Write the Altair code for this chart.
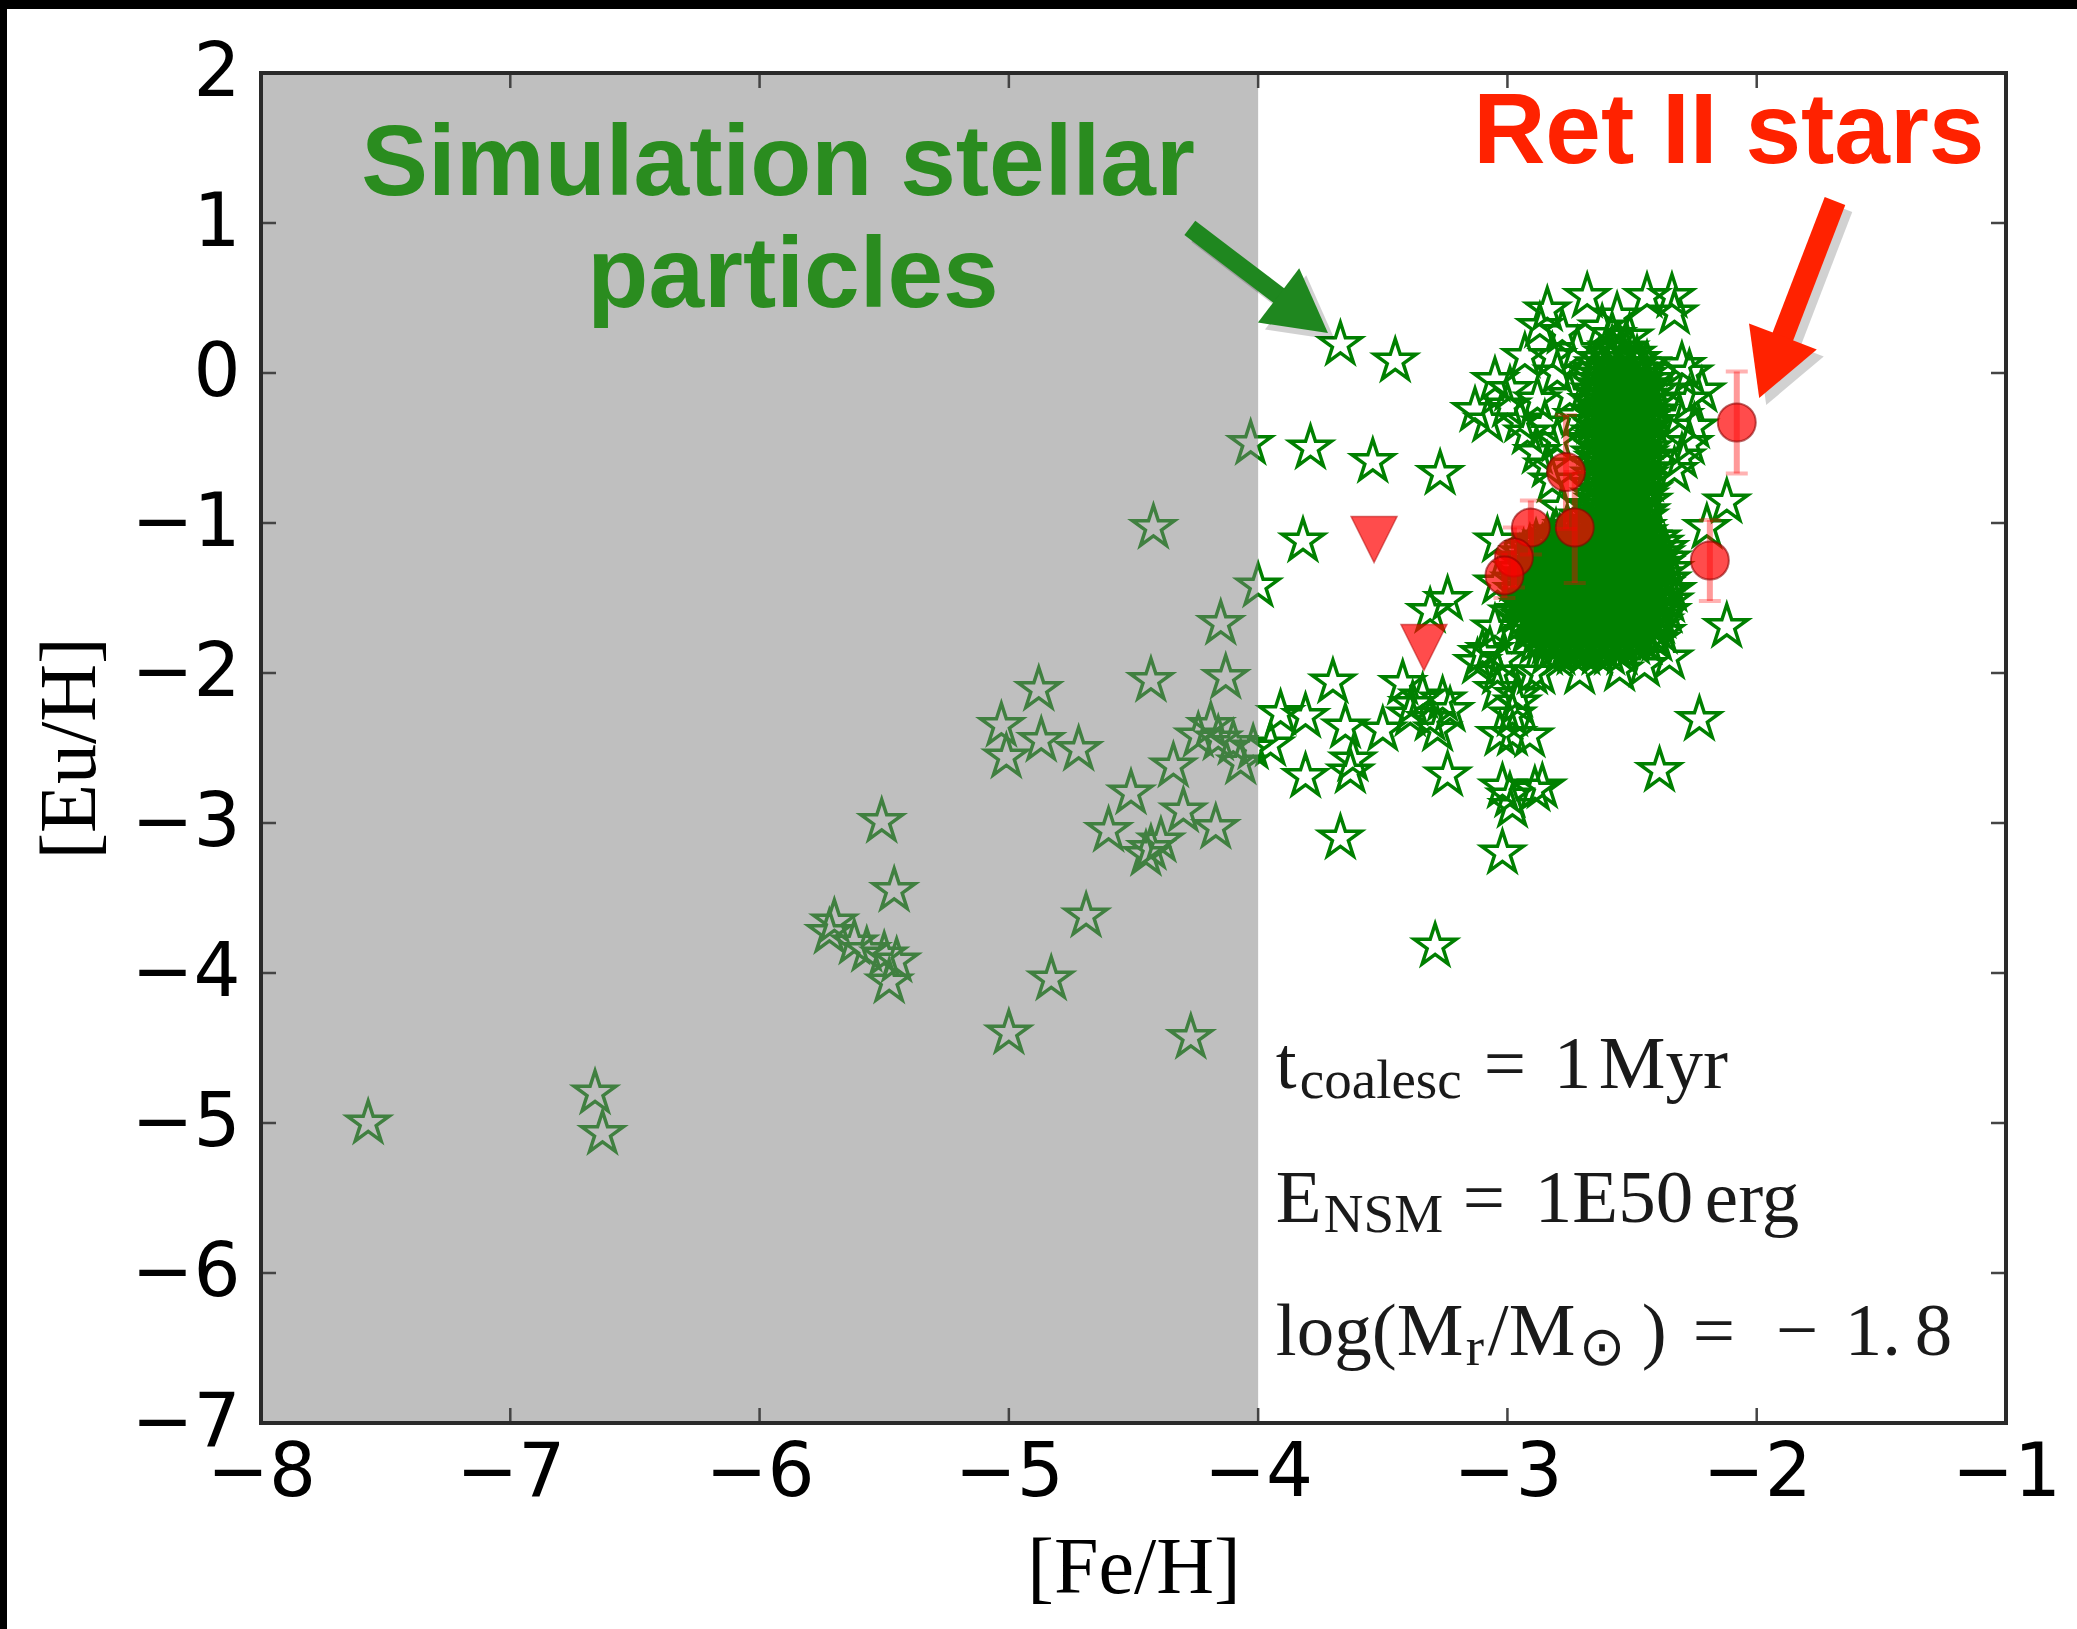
import math
import altair as alt
import pandas as pd

# ---------------------------------------------------------------- geometry
W, H = 1745, 1350
X_MIN, X_MAX = -8, -1
Y_MIN, Y_MAX = -7, 2
PX_X = W / (X_MAX - X_MIN)
PX_Y = H / (Y_MAX - Y_MIN)

# ---------------------------------------------------------------- data
# isolated simulation stellar particles ([Fe/H], [Eu/H])
sim_feh = [
    -7.57, -6.66, -6.63, -5.51, -5.46, -5.70, -5.72, -5.62, -5.57, -5.50,
    -5.45, -5.48, -4.69, -4.83, -5.00, -4.27, -4.42, -4.00, -4.15, -4.43,
    -4.13, -4.88, -5.03, -5.01, -4.87, -4.72, -4.19, -4.16, -4.10, -4.02,
    -4.24, -4.34, -4.07, -4.51, -4.30, -4.17, -4.60, -4.43, -4.39, -4.45,
    -4.03,
    -3.67, -3.45, -3.79, -3.54, -3.27, -3.82,
    -3.70, -3.91, -3.81, -3.95, -3.65, -3.62, -3.63, -3.50, -3.81, -3.67,
    -3.42, -3.34, -3.38, -3.26, -3.23, -3.31, -3.39, -3.28, -3.24,
    -3.02, -2.86, -2.98, -3.02, -2.98, -3.03, -2.91, -2.98, -3.04, -3.10, -3.02,
    -2.39, -3.24, -3.31, -2.12, -2.23, -3.29, -3.07, -2.89, -2.99, -2.90,
    -3.04, -3.12, -2.96,
    -2.12, -2.20, -2.27, -2.27, -2.31, -2.25, -2.30, -2.33, -2.27,
    -2.84, -2.68, -2.56, -2.44, -2.34, -2.33, -2.87, -2.78, -2.51, -2.93,
    -2.82, -3.05, -3.13, -2.99, -2.88, -2.85, -2.72, -2.84, -2.88, -2.62,
    -2.58,
    -3.00, -2.95, -2.80, -2.75, -2.92, -3.08, -2.80, -2.72, -2.82, -2.78,
    -2.40, -2.34, -3.04, -3.04, -2.96, -2.87, -2.71, -2.55, -2.45, -2.35,
    -2.22, -2.30, -2.95, -2.98, -3.05,
]
sim_euh = [
    -5.00, -4.80, -5.07, -2.99, -3.45, -3.66, -3.73, -3.80, -3.85, -3.88,
    -3.92, -4.06, -3.62, -4.04, -4.40, -4.43, -1.03, -1.42, -1.67, -2.05,
    -2.03, -2.11, -2.35, -2.56, -2.45, -2.51, -2.35, -2.44, -2.47, -2.50,
    -2.42, -2.62, -2.60, -2.80, -2.92, -3.03, -3.05, -3.17, -3.12, -3.21,
    -0.47,
    0.19, 0.08, -0.50, -0.59, -0.67, -1.12,
    -2.06, -2.27, -2.29, -2.48, -2.36, -2.58, -2.66, -2.38, -2.69, -3.10,
    -2.07, -2.16, -2.21, -2.18, -2.25, -2.31, -2.28, -2.38, -2.68,
    -2.76, -2.76, -2.89, -3.20, -2.41, -2.41, -2.42, -2.28, -2.11, -1.87, -1.91,
    -2.65, -1.51, -1.59, -1.69, -2.31, -3.82, -1.85, -2.78, -2.82, -2.00,
    -1.40, -1.93, -2.15,
    -0.86, -1.03, 0.00, -0.18, -0.29, -0.36, -0.56, -0.65, -0.47,
    0.42, 0.51, 0.38, 0.51, 0.51, 0.40, 0.31, 0.27, 0.24, 0.11,
    0.11, -0.05, -0.25, -0.11, -0.18, -0.34, -0.29, -0.62, -0.53, 0.30,
    0.25,
    -0.22, -0.32, -0.45, -0.15, -0.40, -0.32, 0.00, 0.15, -0.72, -0.90,
    -1.78, -1.45, -1.12, -2.00, -2.20, -2.00, -2.00, -1.98, -1.95, -1.90,
    -0.12, 0.05, -1.25, -1.60, -1.70,
]

# crowded core of the particle distribution: one [Eu/H] per row, its [Fe/H] values
core_euh = [
    0.16, 0.125, 0.09, 0.055, 0.02, -0.015, -0.05, -0.085, -0.12, -0.155,
    -0.19, -0.225, -0.26, -0.295, -0.33, -0.365, -0.40, -0.435, -0.47, -0.505,
    -0.54, -0.575, -0.61, -0.645, -0.68, -0.715, -0.75, -0.785, -0.82, -0.855,
    -0.89, -0.925, -0.96, -0.995, -1.03, -1.065, -1.10, -1.135, -1.17, -1.205,
    -1.24, -1.275, -1.31, -1.345, -1.38, -1.415, -1.45, -1.485, -1.52, -1.555,
    -1.59, -1.625, -1.66, -1.695, -1.73, -1.765, -1.80, -1.835, -1.87,
]
core_feh = [
    [-2.58, -2.53],
    [-2.60, -2.55, -2.50],
    [-2.63, -2.58, -2.53, -2.48],
    [-2.635, -2.585, -2.535, -2.485, -2.44],
    [-2.65, -2.60, -2.55, -2.50, -2.45],
    [-2.655, -2.605, -2.555, -2.505, -2.455],
    [-2.66, -2.61, -2.56, -2.51, -2.46, -2.42],
    [-2.635, -2.585, -2.535, -2.485, -2.435],
    [-2.65, -2.60, -2.55, -2.50, -2.45, -2.41],
    [-2.635, -2.585, -2.535, -2.485, -2.435],
    [-2.66, -2.61, -2.56, -2.51, -2.46, -2.41],
    [-2.635, -2.585, -2.535, -2.485, -2.435],
    [-2.65, -2.60, -2.55, -2.50, -2.45, -2.41],
    [-2.635, -2.585, -2.535, -2.485, -2.435],
    [-2.66, -2.61, -2.56, -2.51, -2.46, -2.42],
    [-2.635, -2.585, -2.535, -2.485, -2.435],
    [-2.65, -2.60, -2.55, -2.50, -2.45],
    [-2.635, -2.585, -2.535, -2.485, -2.435],
    [-2.66, -2.61, -2.56, -2.51, -2.46],
    [-2.635, -2.585, -2.535, -2.485, -2.435],
    [-2.65, -2.60, -2.55, -2.50, -2.45],
    [-2.635, -2.585, -2.535, -2.485, -2.435],
    [-2.66, -2.61, -2.56, -2.51, -2.46],
    [-2.635, -2.585, -2.535, -2.485, -2.435],
    [-2.65, -2.60, -2.55, -2.50, -2.45],
    [-2.635, -2.585, -2.535, -2.485, -2.435],
    [-2.66, -2.61, -2.56, -2.51, -2.46],
    [-2.635, -2.585, -2.535, -2.485, -2.435],
    [-2.65, -2.60, -2.55, -2.50, -2.45],
    [-2.635, -2.585, -2.535, -2.485, -2.435],
    [-2.67, -2.62, -2.57, -2.52, -2.47],
    [-2.645, -2.595, -2.545, -2.495, -2.445],
    [-2.70, -2.65, -2.60, -2.55, -2.50, -2.45],
    [-2.685, -2.635, -2.585, -2.535, -2.485],
    [-2.76, -2.71, -2.66, -2.61, -2.56, -2.51, -2.46],
    [-2.805, -2.755, -2.705, -2.655, -2.605, -2.555, -2.505, -2.455],
    [-2.84, -2.79, -2.74, -2.69, -2.64, -2.59, -2.54, -2.49, -2.44, -2.40],
    [-2.885, -2.835, -2.785, -2.735, -2.685, -2.635, -2.585, -2.535, -2.485, -2.435, -2.39],
    [-2.91, -2.86, -2.81, -2.76, -2.71, -2.66, -2.61, -2.56, -2.51, -2.46, -2.41, -2.37],
    [-2.935, -2.885, -2.835, -2.785, -2.735, -2.685, -2.635, -2.585, -2.535, -2.485, -2.435, -2.385],
    [-2.95, -2.90, -2.85, -2.80, -2.75, -2.70, -2.65, -2.60, -2.55, -2.50, -2.45, -2.40, -2.36],
    [-2.935, -2.885, -2.835, -2.785, -2.735, -2.685, -2.635, -2.585, -2.535, -2.485, -2.435, -2.385],
    [-2.96, -2.91, -2.86, -2.81, -2.76, -2.71, -2.66, -2.61, -2.56, -2.51, -2.46, -2.41, -2.35],
    [-2.935, -2.885, -2.835, -2.785, -2.735, -2.685, -2.635, -2.585, -2.535, -2.485, -2.435, -2.385],
    [-2.97, -2.92, -2.87, -2.82, -2.77, -2.72, -2.67, -2.62, -2.57, -2.52, -2.47, -2.42, -2.36],
    [-2.935, -2.885, -2.835, -2.785, -2.735, -2.685, -2.635, -2.585, -2.535, -2.485, -2.435, -2.385],
    [-2.96, -2.91, -2.86, -2.81, -2.76, -2.71, -2.66, -2.61, -2.56, -2.51, -2.46, -2.41, -2.36],
    [-2.935, -2.885, -2.835, -2.785, -2.735, -2.685, -2.635, -2.585, -2.535, -2.485, -2.435, -2.385],
    [-2.95, -2.90, -2.85, -2.80, -2.75, -2.70, -2.65, -2.60, -2.55, -2.50, -2.45, -2.40, -2.35],
    [-2.935, -2.885, -2.835, -2.785, -2.735, -2.685, -2.635, -2.585, -2.535, -2.485, -2.435, -2.385],
    [-2.95, -2.90, -2.85, -2.80, -2.75, -2.70, -2.65, -2.60, -2.55, -2.50, -2.45, -2.40, -2.36],
    [-2.935, -2.885, -2.835, -2.785, -2.735, -2.685, -2.635, -2.585, -2.535, -2.485, -2.435, -2.385],
    [-2.94, -2.89, -2.84, -2.79, -2.74, -2.69, -2.64, -2.59, -2.54, -2.49, -2.44, -2.39],
    [-2.905, -2.855, -2.805, -2.755, -2.705, -2.655, -2.605, -2.555, -2.505, -2.455, -2.405],
    [-2.92, -2.87, -2.82, -2.77, -2.72, -2.67, -2.62, -2.57, -2.52, -2.47, -2.42, -2.38],
    [-2.865, -2.815, -2.765, -2.715, -2.665, -2.615, -2.565, -2.515, -2.465],
    [-2.89, -2.84, -2.79, -2.74, -2.69, -2.64, -2.59, -2.54, -2.49, -2.44],
    [-2.815, -2.765, -2.715, -2.665, -2.615, -2.565],
    [-2.84, -2.79, -2.74, -2.69, -2.64, -2.59, -2.54],
]

# Ret II stars: measurements with errors, and upper limits
ret_feh = [-2.08, -2.765, -2.73, -2.906, -2.974, -3.012, -2.188]
ret_euh = [-0.33, -0.66, -1.03, -1.03, -1.23, -1.35, -1.25]
ret_err = [0.34, 0.38, 0.37, 0.18, 0.20, 0.15, 0.27]
lim_feh = [-3.535, -3.335]
lim_euh = [-1.11, -1.83]

x_ticks = [-8, -7, -6, -5, -4, -3, -2, -1]
y_ticks = [-7, -6, -5, -4, -3, -2, -1, 0, 1, 2]

# ---------------------------------------------------------------- tables
stars = pd.DataFrame({"feh": sim_feh, "euh": sim_euh})
core = pd.DataFrame(
    [(f, e) for e, row in zip(core_euh, core_feh) for f in row], columns=["feh", "euh"]
)
stars = pd.concat([stars, core], ignore_index=True)

ret = pd.DataFrame({"feh": ret_feh, "euh": ret_euh, "err": ret_err})
ret["lo"] = ret["euh"] - ret["err"]
ret["hi"] = ret["euh"] + ret["err"]
lims = pd.DataFrame({"feh": lim_feh, "euh": lim_euh})

shade = pd.DataFrame({"feh": [-8.0], "feh2": [-4.0], "euh": [Y_MIN], "euh2": [Y_MAX]})
inner_x = pd.DataFrame({"t": x_ticks[1:-1]})
inner_y = pd.DataFrame({"t": y_ticks[1:-1]})
one = pd.DataFrame({"k": [0]})

# ---------------------------------------------------------------- encodings
xs = alt.Scale(domain=[X_MIN, X_MAX], nice=False, zero=False)
ys = alt.Scale(domain=[Y_MIN, Y_MAX], nice=False, zero=False)

x_axis = alt.Axis(
    values=x_ticks, title="[Fe/H]", grid=False, domain=False, ticks=False, tickSize=0,
    labelFont="DejaVu Sans", labelFontSize=74, labelColor="black", labelPadding=14,
    labelFlush=False, labelOverlap=False,
    titleFont="Liberation Serif", titleFontSize=80, titleFontWeight="normal",
    titleColor="black", titleY=169, titleBaseline="alphabetic",
)
y_axis = alt.Axis(
    values=y_ticks, title="[Eu/H]", grid=False, domain=False, ticks=False, tickSize=0,
    labelFont="DejaVu Sans", labelFontSize=74, labelColor="black", labelPadding=21,
    labelFlush=False, labelOverlap=False,
    titleFont="Liberation Serif", titleFontSize=80, titleFontWeight="normal",
    titleColor="black", titleAngle=270, titleX=-167, titleY=H / 2,
    titleBaseline="alphabetic", titleAlign="center",
)


def X(field):
    return alt.X(f"{field}:Q", scale=xs, axis=x_axis)


def Y(field):
    return alt.Y(f"{field}:Q", scale=ys, axis=y_axis)


STAR = ("M0,-1L0.2245,-0.309L0.9511,-0.309L0.3633,0.118L0.5878,0.809L0,0.382"
        "L-0.5878,0.809L-0.3633,0.118L-0.9511,-0.309L-0.2245,-0.309Z")
TRI_DOWN = "M-1,-1L1,-1L0,1Z"
HEAD = "M0,0L0.55,1L-0.55,1Z"

# ---------------------------------------------------------------- marks
star_layer = alt.Chart(stars).mark_point(
    shape=STAR, filled=False, size=1936, stroke="#008000", strokeWidth=3.5, opacity=1
).encode(x=X("feh"), y=Y("euh"))

shade_layer = alt.Chart(shade).mark_rect(color="#808080", opacity=0.5).encode(
    x=X("feh"), x2="feh2:Q", y=Y("euh"), y2="euh2:Q"
)

TICK = 15
tick_style = dict(color="#444444", strokeWidth=2.5)
ticks_bottom = alt.Chart(inner_x).mark_rule(**tick_style).encode(
    x=X("t"), y=alt.value(H), y2=alt.value(H - TICK))
ticks_top = alt.Chart(inner_x).mark_rule(**tick_style).encode(
    x=X("t"), y=alt.value(0), y2=alt.value(TICK))
ticks_left = alt.Chart(inner_y).mark_rule(**tick_style).encode(
    y=Y("t"), x=alt.value(0), x2=alt.value(TICK))
ticks_right = alt.Chart(inner_y).mark_rule(**tick_style).encode(
    y=Y("t"), x=alt.value(W), x2=alt.value(W - TICK))

frame = alt.Chart(one).mark_rect(
    fill="transparent", stroke="#2a2a2a", strokeWidth=4
).encode(x=alt.value(0), x2=alt.value(W), y=alt.value(0), y2=alt.value(H))

err_bars = alt.Chart(ret).mark_rule(color="#ff0000", strokeWidth=6, opacity=0.4).encode(
    x=X("feh"), y=Y("lo"), y2="hi:Q")
err_lo = alt.Chart(ret).mark_tick(
    orient="horizontal", color="#ff0000", size=22, thickness=4, opacity=0.3
).encode(x=X("feh"), y=Y("lo"))
err_hi = alt.Chart(ret).mark_tick(
    orient="horizontal", color="#ff0000", size=22, thickness=4, opacity=0.3
).encode(x=X("feh"), y=Y("hi"))

ret_pts = alt.Chart(ret).mark_point(
    shape="circle", filled=True, size=1444, fill="#ff0000", fillOpacity=0.7,
    stroke="#8b0000", strokeOpacity=0.6, strokeWidth=2, opacity=1
).encode(x=X("feh"), y=Y("euh"))

lim_pts = alt.Chart(lims).mark_point(
    shape=TRI_DOWN, filled=True, size=2116, fill="#ff0000", fillOpacity=0.7,
    stroke="#b00000", strokeOpacity=0.5, strokeWidth=1.5, opacity=1
).encode(x=X("feh"), y=Y("euh"))


# ---------------------------------------------------------------- annotations
def to_px(x, y):
    return (x - X_MIN) * PX_X, (Y_MAX - y) * PX_Y


def to_data(px, py):
    return X_MIN + px / PX_X, Y_MAX - py / PX_Y


def arrow_layers(tail, tip, head_len, shaft_w, color):
    tx, ty = to_px(*tail)
    hx, hy = to_px(*tip)
    dx, dy = hx - tx, hy - ty
    length = math.hypot(dx, dy)
    ux, uy = dx / length, dy / length
    angle = math.degrees(math.atan2(dx, -dy)) % 360
    layers = []
    for off, col, op in ((7, "#000000", 0.18), (0, color, 1.0)):
        bx, by = hx - ux * head_len * 0.8 + off, hy - uy * head_len * 0.8 + off
        t = to_data(tx + off, ty + off)
        b = to_data(bx, by)
        p = to_data(hx + off, hy + off)
        shaft = pd.DataFrame({"feh": [t[0]], "euh": [t[1]], "feh2": [b[0]], "euh2": [b[1]]})
        head = pd.DataFrame({"feh": [p[0]], "euh": [p[1]]})
        layers.append(
            alt.Chart(shaft).mark_rule(
                color=col, strokeWidth=shaft_w, strokeCap="butt", opacity=op
            ).encode(x=X("feh"), y=Y("euh"), x2="feh2:Q", y2="euh2:Q")
        )
        layers.append(
            alt.Chart(head).mark_point(
                shape=HEAD, filled=True, size=(2 * head_len) ** 2, angle=angle,
                fill=col, strokeWidth=0, opacity=op
            ).encode(x=X("feh"), y=Y("euh"))
        )
    return layers


GREEN_TXT = "#2a8c1f"
RED_TXT = "#ff2200"

green_arrow = arrow_layers((-4.274, 0.967), (-3.72, 0.267), 62, 18, "#1f871f")
red_arrow = arrow_layers((-1.686, 1.147), (-1.99, -0.167), 66, 22, RED_TXT)

labels_green = pd.DataFrame({
    "feh": [-5.926, -5.866], "euh": [1.187, 0.44],
    "txt": ["Simulation stellar", "particles"],
})
label_green = alt.Chart(labels_green).mark_text(
    font="Liberation Sans", fontWeight="bold", fontSize=100, color=GREEN_TXT,
    align="center", baseline="alphabetic"
).encode(x=X("feh"), y=Y("euh"), text="txt:N")

labels_red = pd.DataFrame({"feh": [-2.112], "euh": [1.40], "txt": ["Ret II stars"]})
label_red = alt.Chart(labels_red).mark_text(
    font="Liberation Sans", fontWeight="bold", fontSize=100, color=RED_TXT,
    align="center", baseline="alphabetic"
).encode(x=X("feh"), y=Y("euh"), text="txt:N")

# model parameters: (line baseline [Eu/H], pixel offset from left edge, text, is subscript)
note_x = -3.929
note_rows = [
    (-4.767, 0, "t", False), (-4.767, 24, "coalesc", True),
    (-4.767, 208, "=", False), (-4.767, 278, "1", False), (-4.767, 323, "Myr", False),
    (-5.66, 0, "E", False), (-5.66, 48, "NSM", True),
    (-5.66, 187, "=", False), (-5.66, 259, "1E50", False), (-5.66, 429, "erg", False),
    (-6.547, 0, "log(M", False), (-6.547, 190, "r", True), (-6.547, 212, "/M", False),
    (-6.547, 303, "\u2299", True), (-6.547, 366, ")", False), (-6.547, 417, "=", False),
    (-6.547, 500, "\u2212", False), (-6.547, 569, "1.", False), (-6.547, 639, "8", False),
]
SUB_DROP = 10
notes = pd.DataFrame({
    "feh": [note_x + off / PX_X for _, off, _, _ in note_rows],
    "euh": [y - (SUB_DROP / PX_Y if sub else 0) for y, _, _, sub in note_rows],
    "txt": [t for _, _, t, _ in note_rows],
    "sub": [sub for _, _, _, sub in note_rows],
})
note_main = alt.Chart(notes[~notes["sub"]]).mark_text(
    font="Liberation Serif", fontSize=75, color="#1a1a1a", align="left",
    baseline="alphabetic"
).encode(x=X("feh"), y=Y("euh"), text="txt:N")
note_sub = alt.Chart(notes[notes["sub"]]).mark_text(
    font="Liberation Serif", fontSize=55, color="#1a1a1a", align="left",
    baseline="alphabetic"
).encode(x=X("feh"), y=Y("euh"), text="txt:N")

# dark edge strips along the top and left of the figure
edge_top = alt.Chart(one).mark_rect(color="black").encode(
    x=alt.value(-261), x2=alt.value(W + 71), y=alt.value(-73), y2=alt.value(-64))
edge_left = alt.Chart(one).mark_rect(color="black").encode(
    x=alt.value(-261), x2=alt.value(-254), y=alt.value(-73), y2=alt.value(H + 206))

chart = alt.layer(
    star_layer, shade_layer,
    ticks_bottom, ticks_top, ticks_left, ticks_right, frame,
    err_bars, err_lo, err_hi, ret_pts, lim_pts,
    *green_arrow, *red_arrow,
    label_green, label_red, note_main, note_sub,
    edge_top, edge_left,
).properties(
    width=W, height=H,
    padding={"left": 261, "top": 73, "right": 71, "bottom": 206},
    autosize=alt.AutoSizeParams(type="none"),
    background="white",
).configure_view(strokeWidth=0)

chart.save("out.html", embed_options={"renderer": "svg", "actions": False})
